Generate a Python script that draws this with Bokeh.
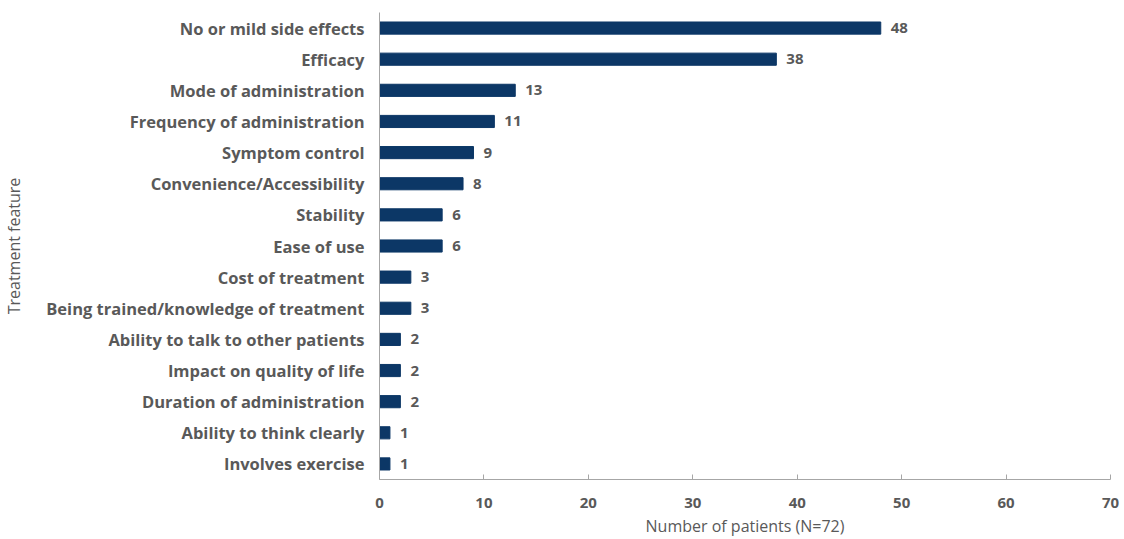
from bokeh.plotting import figure
from bokeh.models import ColumnDataSource, FactorRange, Range1d, FixedTicker
from bokeh.core.properties import value
from bokeh.embed import file_html
from bokeh.resources import INLINE

categories = [
    "No or mild side effects",
    "Efficacy",
    "Mode of administration",
    "Frequency of administration",
    "Symptom control",
    "Convenience/Accessibility",
    "Stability",
    "Ease of use",
    "Cost of treatment",
    "Being trained/knowledge of treatment",
    "Ability to talk to other patients",
    "Impact on quality of life",
    "Duration of administration",
    "Ability to think clearly",
    "Involves exercise",
]
counts = [48, 38, 13, 11, 9, 8, 6, 6, 3, 3, 2, 2, 2, 1, 1]
x_ticks = [0, 10, 20, 30, 40, 50, 60, 70]

FONT = "Open Sans"
GREY = "#595959"
BAR = "#0c3766"

src = ColumnDataSource(dict(cat=categories, n=counts, lab=[str(c) for c in counts]))

p = figure(
    width=1124, height=539,
    y_range=FactorRange(*list(reversed(categories)), range_padding=0),
    x_range=Range1d(0, 70),
    output_backend="svg", toolbar_location=None,
    min_border_left=378, min_border_right=14, min_border_top=12, min_border_bottom=60,
)
p.outline_line_color = None
p.xgrid.grid_line_color = None
p.ygrid.grid_line_color = None

p.hbar(y="cat", right="n", left=0, height=0.39, source=src, color=BAR)
p.text(x="n", y="cat", text="lab", source=src, x_offset=10, text_baseline="middle",
       text_align="left", text_font=value(FONT), text_font_style="bold",
       text_font_size="15px", text_color=GREY)

p.xaxis.ticker = FixedTicker(ticks=x_ticks)
p.xaxis.axis_label = "Number of patients (N=72)"
p.yaxis.axis_label = "Treatment feature"
for ax in (p.xaxis[0], p.yaxis[0]):
    ax.axis_line_color = "#a6a6a6"
    ax.major_tick_line_color = "#a6a6a6"
    ax.minor_tick_line_color = None
    ax.axis_label_text_font = FONT
    ax.axis_label_text_font_style = "normal"
    ax.axis_label_text_font_size = "16px"
    ax.axis_label_text_color = GREY
    ax.major_label_text_font = FONT
    ax.major_label_text_font_style = "bold"
    ax.major_label_text_color = GREY

p.xaxis.major_tick_in = 5
p.xaxis.major_tick_out = 0
p.xaxis.major_label_text_font_size = "15px"
p.xaxis.major_label_standoff = 18
p.xaxis.axis_label_standoff = 4
p.yaxis.major_tick_in = 0
p.yaxis.major_tick_out = 0
p.yaxis.major_label_text_font_size = "16.5px"
p.yaxis.major_label_standoff = 15
p.yaxis.axis_label_standoff = 18

open("out.html", "w").write(file_html(p, INLINE))
